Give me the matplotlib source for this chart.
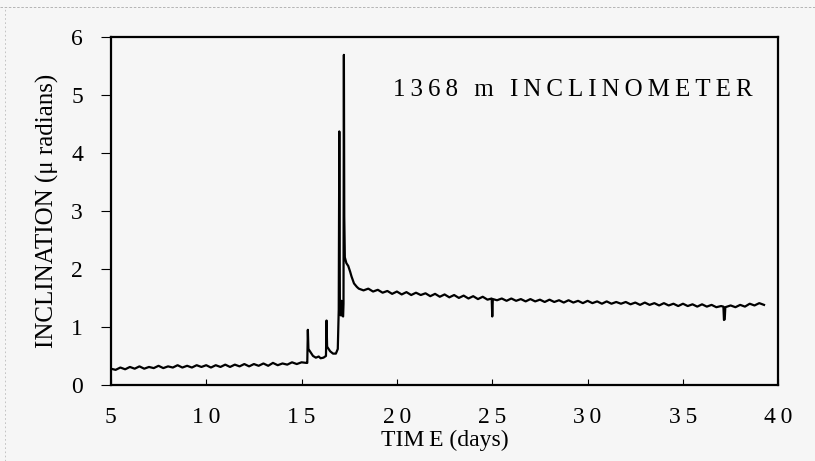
import matplotlib
matplotlib.use("Agg")
import matplotlib.pyplot as plt
from matplotlib.lines import Line2D

# time (days) and inclination (micro radians)
# quiet period before the event
days_before = [5.00, 5.25, 5.50, 5.75, 6.00, 6.25, 6.50, 6.75, 7.00, 7.25,
               7.50, 7.75, 8.00, 8.25, 8.50, 8.75, 9.00, 9.25, 9.50, 9.75,
               10.00, 10.25, 10.50, 10.75, 11.00, 11.25, 11.50, 11.75, 12.00, 12.25,
               12.50, 12.75, 13.00, 13.25, 13.50, 13.75, 14.00, 14.25, 14.50, 14.75,
               15.00, 15.25]
incl_before = [0.28, 0.26, 0.30, 0.27, 0.31, 0.28, 0.32, 0.28, 0.31, 0.29,
               0.33, 0.29, 0.32, 0.30, 0.34, 0.30, 0.33, 0.30, 0.34, 0.31,
               0.34, 0.30, 0.34, 0.31, 0.35, 0.31, 0.35, 0.32, 0.36, 0.32,
               0.36, 0.33, 0.37, 0.33, 0.38, 0.34, 0.37, 0.35, 0.39, 0.36,
               0.39, 0.38]

# the event, spikes around day 15-18
days_event = [15.30, 15.33, 15.36, 15.50, 15.60, 15.75, 15.90, 16.00, 16.15, 16.28,
              16.31, 16.34, 16.50, 16.65, 16.80, 16.90, 16.95, 16.98, 17.01, 17.05,
              17.10, 17.12, 17.18, 17.20, 17.22, 17.24, 17.27, 17.35, 17.45, 17.55,
              17.62, 17.75, 17.90, 18.00]
incl_event = [0.38, 0.95, 0.62, 0.55, 0.50, 0.47, 0.49, 0.46, 0.47, 0.50,
              1.11, 0.66, 0.58, 0.54, 0.54, 0.62, 1.30, 4.37, 1.40, 1.20,
              1.45, 1.20, 1.18, 1.40, 5.69, 2.90, 2.20, 2.10, 2.05, 1.95,
              1.87, 1.75, 1.69, 1.66]

# slow decay afterwards
days_after = [18.25, 18.50, 18.75, 19.00, 19.25, 19.50, 19.75, 20.00, 20.25, 20.50,
              20.75, 21.00, 21.25, 21.50, 21.75, 22.00, 22.25, 22.50, 22.75, 23.00,
              23.25, 23.50, 23.75, 24.00, 24.25, 24.50, 24.75, 24.97, 25.00, 25.03,
              25.25, 25.50, 25.75, 26.00, 26.25, 26.50, 26.75, 27.00, 27.25, 27.50,
              27.75, 28.00, 28.25, 28.50, 28.75, 29.00, 29.25, 29.50, 29.75, 30.00,
              30.25, 30.50, 30.75, 31.00, 31.25, 31.50, 31.75, 32.00, 32.25, 32.50,
              32.75, 33.00, 33.25, 33.50, 33.75, 34.00, 34.25, 34.50, 34.75, 35.00,
              35.25, 35.50, 35.75, 36.00, 36.25, 36.50, 36.75, 37.00, 37.12, 37.15,
              37.19, 37.22, 37.50, 37.75, 38.00, 38.25, 38.50, 38.75, 39.00, 39.25]
incl_after = [1.63, 1.66, 1.61, 1.64, 1.59, 1.62, 1.57, 1.61, 1.56, 1.60,
              1.55, 1.59, 1.55, 1.58, 1.53, 1.57, 1.52, 1.56, 1.51, 1.55,
              1.50, 1.54, 1.49, 1.53, 1.48, 1.52, 1.47, 1.49, 1.18, 1.48,
              1.46, 1.49, 1.45, 1.49, 1.45, 1.48, 1.44, 1.48, 1.44, 1.47,
              1.43, 1.47, 1.43, 1.46, 1.42, 1.46, 1.42, 1.45, 1.41, 1.45,
              1.41, 1.44, 1.40, 1.44, 1.40, 1.43, 1.40, 1.43, 1.39, 1.42,
              1.38, 1.42, 1.38, 1.41, 1.37, 1.41, 1.37, 1.40, 1.36, 1.40,
              1.36, 1.39, 1.35, 1.39, 1.35, 1.38, 1.34, 1.36, 1.35, 1.12,
              1.13, 1.34, 1.37, 1.34, 1.38, 1.35, 1.40, 1.37, 1.41, 1.38]

x_ticks = [5, 10, 15, 20, 25, 30, 35, 40]
y_ticks = [0, 1, 2, 3, 4, 5, 6]
x_ticklabels = ["5", "1\u20090", "1\u20095", "2\u20090", "2\u20095", "3\u20090", "3\u20095", "4\u20090"]
title = "1368 m INCLINOMETER"

days = days_before + days_event + days_after
incl = incl_before + incl_event + incl_after

plt.rcParams['font.family'] = ['Liberation Serif', 'DejaVu Serif']
bg = "#f6f6f6"

fig = plt.figure(figsize=(8.15, 4.61), dpi=100, facecolor=bg)
ax = fig.add_axes([0.136, 0.165, 0.819, 0.755], facecolor=bg)

ax.plot(days, incl, color="black", lw=1.6, solid_joinstyle="round")

ax.set_xlim(5, 40)
ax.set_ylim(0, 6)
ax.set_xticks(x_ticks)
ax.set_xticklabels(x_ticklabels)
ax.set_yticks(y_ticks)
ax.tick_params(axis="x", direction="in", length=4, width=0.8, pad=16, labelsize=17)
ax.tick_params(axis="y", direction="out", length=7, width=0.8, pad=13, labelsize=17)
for s in ax.spines.values():
    s.set_linewidth(1.6)

ax.set_xlabel("TIM\u2009E (days)", fontsize=17, labelpad=1)
ax.set_ylabel("INCLINATION (\u03bc radians)", fontsize=18, labelpad=9)

# letter-spaced label, like the original typesetting
ax.text(0.962, 0.848, "\u2009".join(title), transform=ax.transAxes,
        ha="right", va="center", fontsize=18)

# faint scan border lines
fig.add_artist(Line2D([0.0, 1.0], [0.985, 0.985], color="#aaaaaa", lw=0.6, ls=(0, (3, 2))))
fig.add_artist(Line2D([0.006, 0.006], [0.0, 0.985], color="#bbbbbb", lw=0.6, ls=(0, (2, 3))))

fig.savefig("out.png", dpi=100, facecolor=bg)
